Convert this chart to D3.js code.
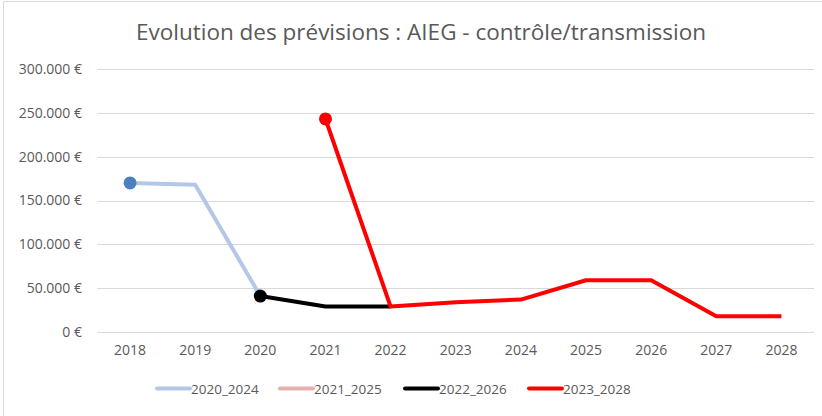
<!DOCTYPE html>
<html>
<head>
<meta charset="utf-8">
<script src="https://cdn.jsdelivr.net/npm/d3@7"></script>
<style>
  body { margin: 0; background: #fff; }
  text { font-family: 'Open Sans', 'Noto Sans', sans-serif; fill: #595959; }
</style>
</head>
<body>
<svg id="chart" width="822" height="416"></svg>
<script>
const years = ['2018', '2019', '2020', '2021', '2022', '2023', '2024', '2025', '2026', '2027', '2028'];
const yTicks = [0, 50000, 100000, 150000, 200000, 250000, 300000];

// one value per year, null where the series has no point
const prev2020_2024 = [170000, 168000, 41000, null, null, null, null, null, null, null, null];
const prev2021_2025 = [null, null, null, null, null, null, null, null, null, null, null];
const prev2022_2026 = [null, null, 41000, 29000, 29000, null, null, null, null, null, null];
const prev2023_2028 = [null, null, null, 243000, 29000, 34000, 37000, 59000, 59000, 18000, 18000];

const seriesNames = ['2020_2024', '2021_2025', '2022_2026', '2023_2028'];
const seriesColors = ['#b4c7e7', '#e6b0b0', '#000000', '#ff0000'];
const markerColors = ['#4e7fc0', '#e6b0b0', '#000000', '#ff0000'];

const series = [prev2020_2024, prev2021_2025, prev2022_2026, prev2023_2028].map((vals, i) => ({
  name: seriesNames[i],
  color: seriesColors[i],
  marker: markerColors[i],
  values: vals.map((v, j) => ({ year: years[j], value: v })).filter((d) => d.value !== null),
}));

const svg = d3.select('#chart');

// chart frame (only top and left edges show)
svg.append('path')
  .attr('d', 'M3.5,416 V1.5 H822')
  .attr('fill', 'none')
  .attr('stroke', '#d9d9d9')
  .attr('stroke-width', 1);

const x = d3.scaleBand().domain(years).range([97.5, 814]);
const y = d3.scaleLinear().domain([0, 300000]).range([332, 69]);

// title
svg.append('text')
  .attr('x', 421)
  .attr('y', 40)
  .attr('text-anchor', 'middle')
  .attr('font-size', '22.5px')
  .text('Evolution des prévisions : AIEG - contrôle/transmission');

// grid lines
svg.append('g')
  .selectAll('line')
  .data(yTicks)
  .join('line')
  .attr('x1', 97.5)
  .attr('x2', 814)
  .attr('y1', (d) => Math.round(y(d)) + 0.5)
  .attr('y2', (d) => Math.round(y(d)) + 0.5)
  .attr('stroke', '#d9d9d9')
  .attr('stroke-width', 1);

// y axis labels
const fmt = (d) => (d === 0 ? '0 €' : d3.format(',')(d).replace(/,/g, '.') + ' €');
const yAxis = d3.axisLeft(y).tickValues(yTicks).tickFormat(fmt).tickSize(0).tickPadding(0);
const gy = svg.append('g').attr('transform', 'translate(82,0)').call(yAxis);
gy.select('.domain').remove();
gy.selectAll('text').attr('font-size', '14px').attr('font-family', null).attr('fill', '#595959');

// x axis labels
const xAxis = d3.axisBottom(x).tickSize(0).tickPadding(0);
const gx = svg.append('g').attr('transform', 'translate(0,345)').call(xAxis);
gx.select('.domain').remove();
gx.selectAll('text').attr('font-size', '14px').attr('font-family', null).attr('fill', '#595959');

// lines
const line = d3.line()
  .x((d) => x(d.year) + x.bandwidth() / 2)
  .y((d) => y(d.value));

const plot = svg.append('g');
series.forEach((s) => {
  if (!s.values.length) return;
  plot.append('path')
    .datum(s.values)
    .attr('fill', 'none')
    .attr('stroke', s.color)
    .attr('stroke-width', 4)
    .attr('stroke-linejoin', 'round')
    .attr('d', line);
  // marker on first point
  const first = s.values[0];
  plot.append('circle')
    .attr('cx', x(first.year) + x.bandwidth() / 2)
    .attr('cy', y(first.value))
    .attr('r', 6.5)
    .attr('fill', s.marker);
});

// legend
const legendX = [157, 280, 405, 529];
const legend = svg.append('g');
series.forEach((s, i) => {
  legend.append('line')
    .attr('x1', legendX[i])
    .attr('x2', legendX[i] + 33)
    .attr('y1', 388.5)
    .attr('y2', 388.5)
    .attr('stroke', s.color)
    .attr('stroke-width', 4)
    .attr('stroke-linecap', 'round');
  legend.append('text')
    .attr('x', legendX[i] + 34)
    .attr('y', 393.5)
    .attr('font-size', '13.5px')
    .text(s.name);
});
</script>
</body>
</html>
